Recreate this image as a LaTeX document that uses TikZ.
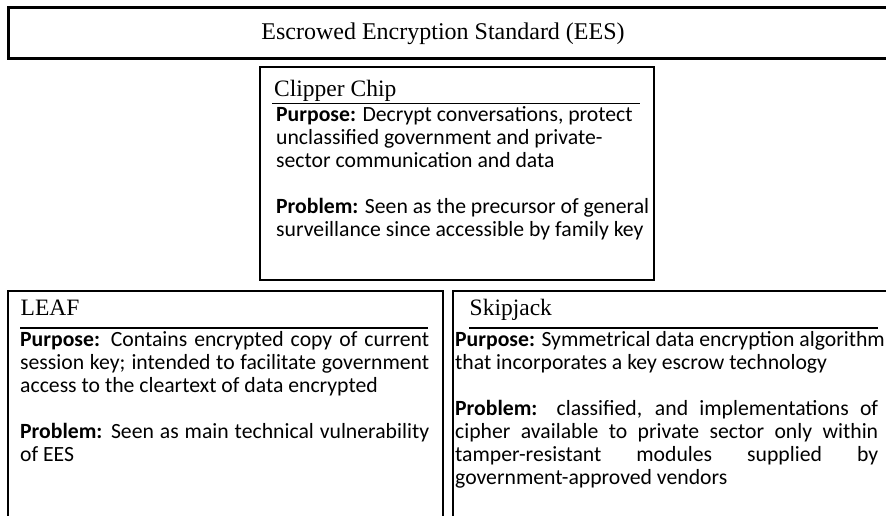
\documentclass[tikz,border=0pt]{standalone}
\usepackage{fontspec}
\setmainfont{Liberation Serif}
\newfontfamily\bodyfont{Carlito}
\newcommand\bodylines[1]{\vtop{\bodyfont\fontsize{21.7pt}{23pt}\selectfont\lineskiplimit=-20pt #1}}
\newcommand\jline[2]{\hbox to #1{#2}}
\newcommand\pline[1]{\hbox{#1}}
\newcommand\gapline{\hbox{}}
\begin{document}
\begin{tikzpicture}[x=1pt,y=-1pt,
  topframe/.style={draw=black,line width=3pt,inner sep=0pt,anchor=north west},
  frame/.style={draw=black,line width=2pt,inner sep=0pt,anchor=north west},
  rulel/.style={draw=black,line width=1.6pt},
  head/.style={font=\fontsize{23.5pt}{28pt}\selectfont,anchor=base west,inner sep=0pt},
  maintitle/.style={font=\fontsize{24pt}{28pt}\selectfont,anchor=base,inner sep=0pt},
  body/.style={anchor=base west,inner sep=0pt}]
\useasboundingbox (0,0) rectangle (886,516);
\clip (0,0) rectangle (886,516);
% top box
\node[topframe,minimum width=900pt,minimum height=51pt] (eesbox) at (7,6) {};
\node[maintitle] (ees) at (443,39.5) {Escrowed Encryption Standard (EES)};
% Clipper
\node[frame,minimum width=394pt,minimum height=212pt] (clipbox) at (259,66.5) {};
\node[head] (clipper) at (274,97) {Clipper Chip};
\coordinate (clipL) at (272,103.5);
\coordinate (clipR) at (640,103.5);
\draw[rulel] (clipL) -- (clipR);
\node[body] (cliptext) at (276,122) {\bodylines{%
\pline{\textbf{Purpose:} Decrypt conversations, protect}
\pline{unclassified government and private-}
\pline{sector communication and data}
\gapline
\pline{\textbf{Problem:} Seen as the precursor of general}
\pline{surveillance since accessible by family key}}};
% LEAF
\node[frame,minimum width=435pt,minimum height=320pt] (leafbox) at (7,290) {};
\node[head] (leaf) at (20.5,315) {LEAF};
\coordinate (leafL) at (20,328);
\coordinate (leafR) at (428,328);
\draw[rulel] (leafL) -- (leafR);
\node[body] (leaftext) at (20,346) {\bodylines{%
\jline{409pt}{\textbf{Purpose:} Contains encrypted copy of current}
\jline{409pt}{session key; intended to facilitate government}
\pline{access to the cleartext of data encrypted}
\gapline
\jline{409pt}{\textbf{Problem:} Seen as main technical vulnerability}
\pline{of EES}}};
% Skipjack
\node[frame,minimum width=438pt,minimum height=320pt] (skipbox) at (452,290) {};
\node[head] (skip) at (469.5,315) {Skipjack};
\coordinate (skipL) at (469,328);
\coordinate (skipR) at (878,328);
\draw[rulel] (skipL) -- (skipR);
\node[body] (skiptext) at (455,346) {\bodylines{%
\pline{\textbf{Purpose:} Symmetrical data encryption algorithm}
\pline{that incorporates a key escrow technology}
\gapline
\jline{423pt}{\textbf{Problem:} classified, and implementations of}
\jline{423pt}{cipher available to private sector only within}
\jline{423pt}{tamper-resistant modules supplied by}
\pline{government-approved vendors}}};
\end{tikzpicture}
\end{document}
